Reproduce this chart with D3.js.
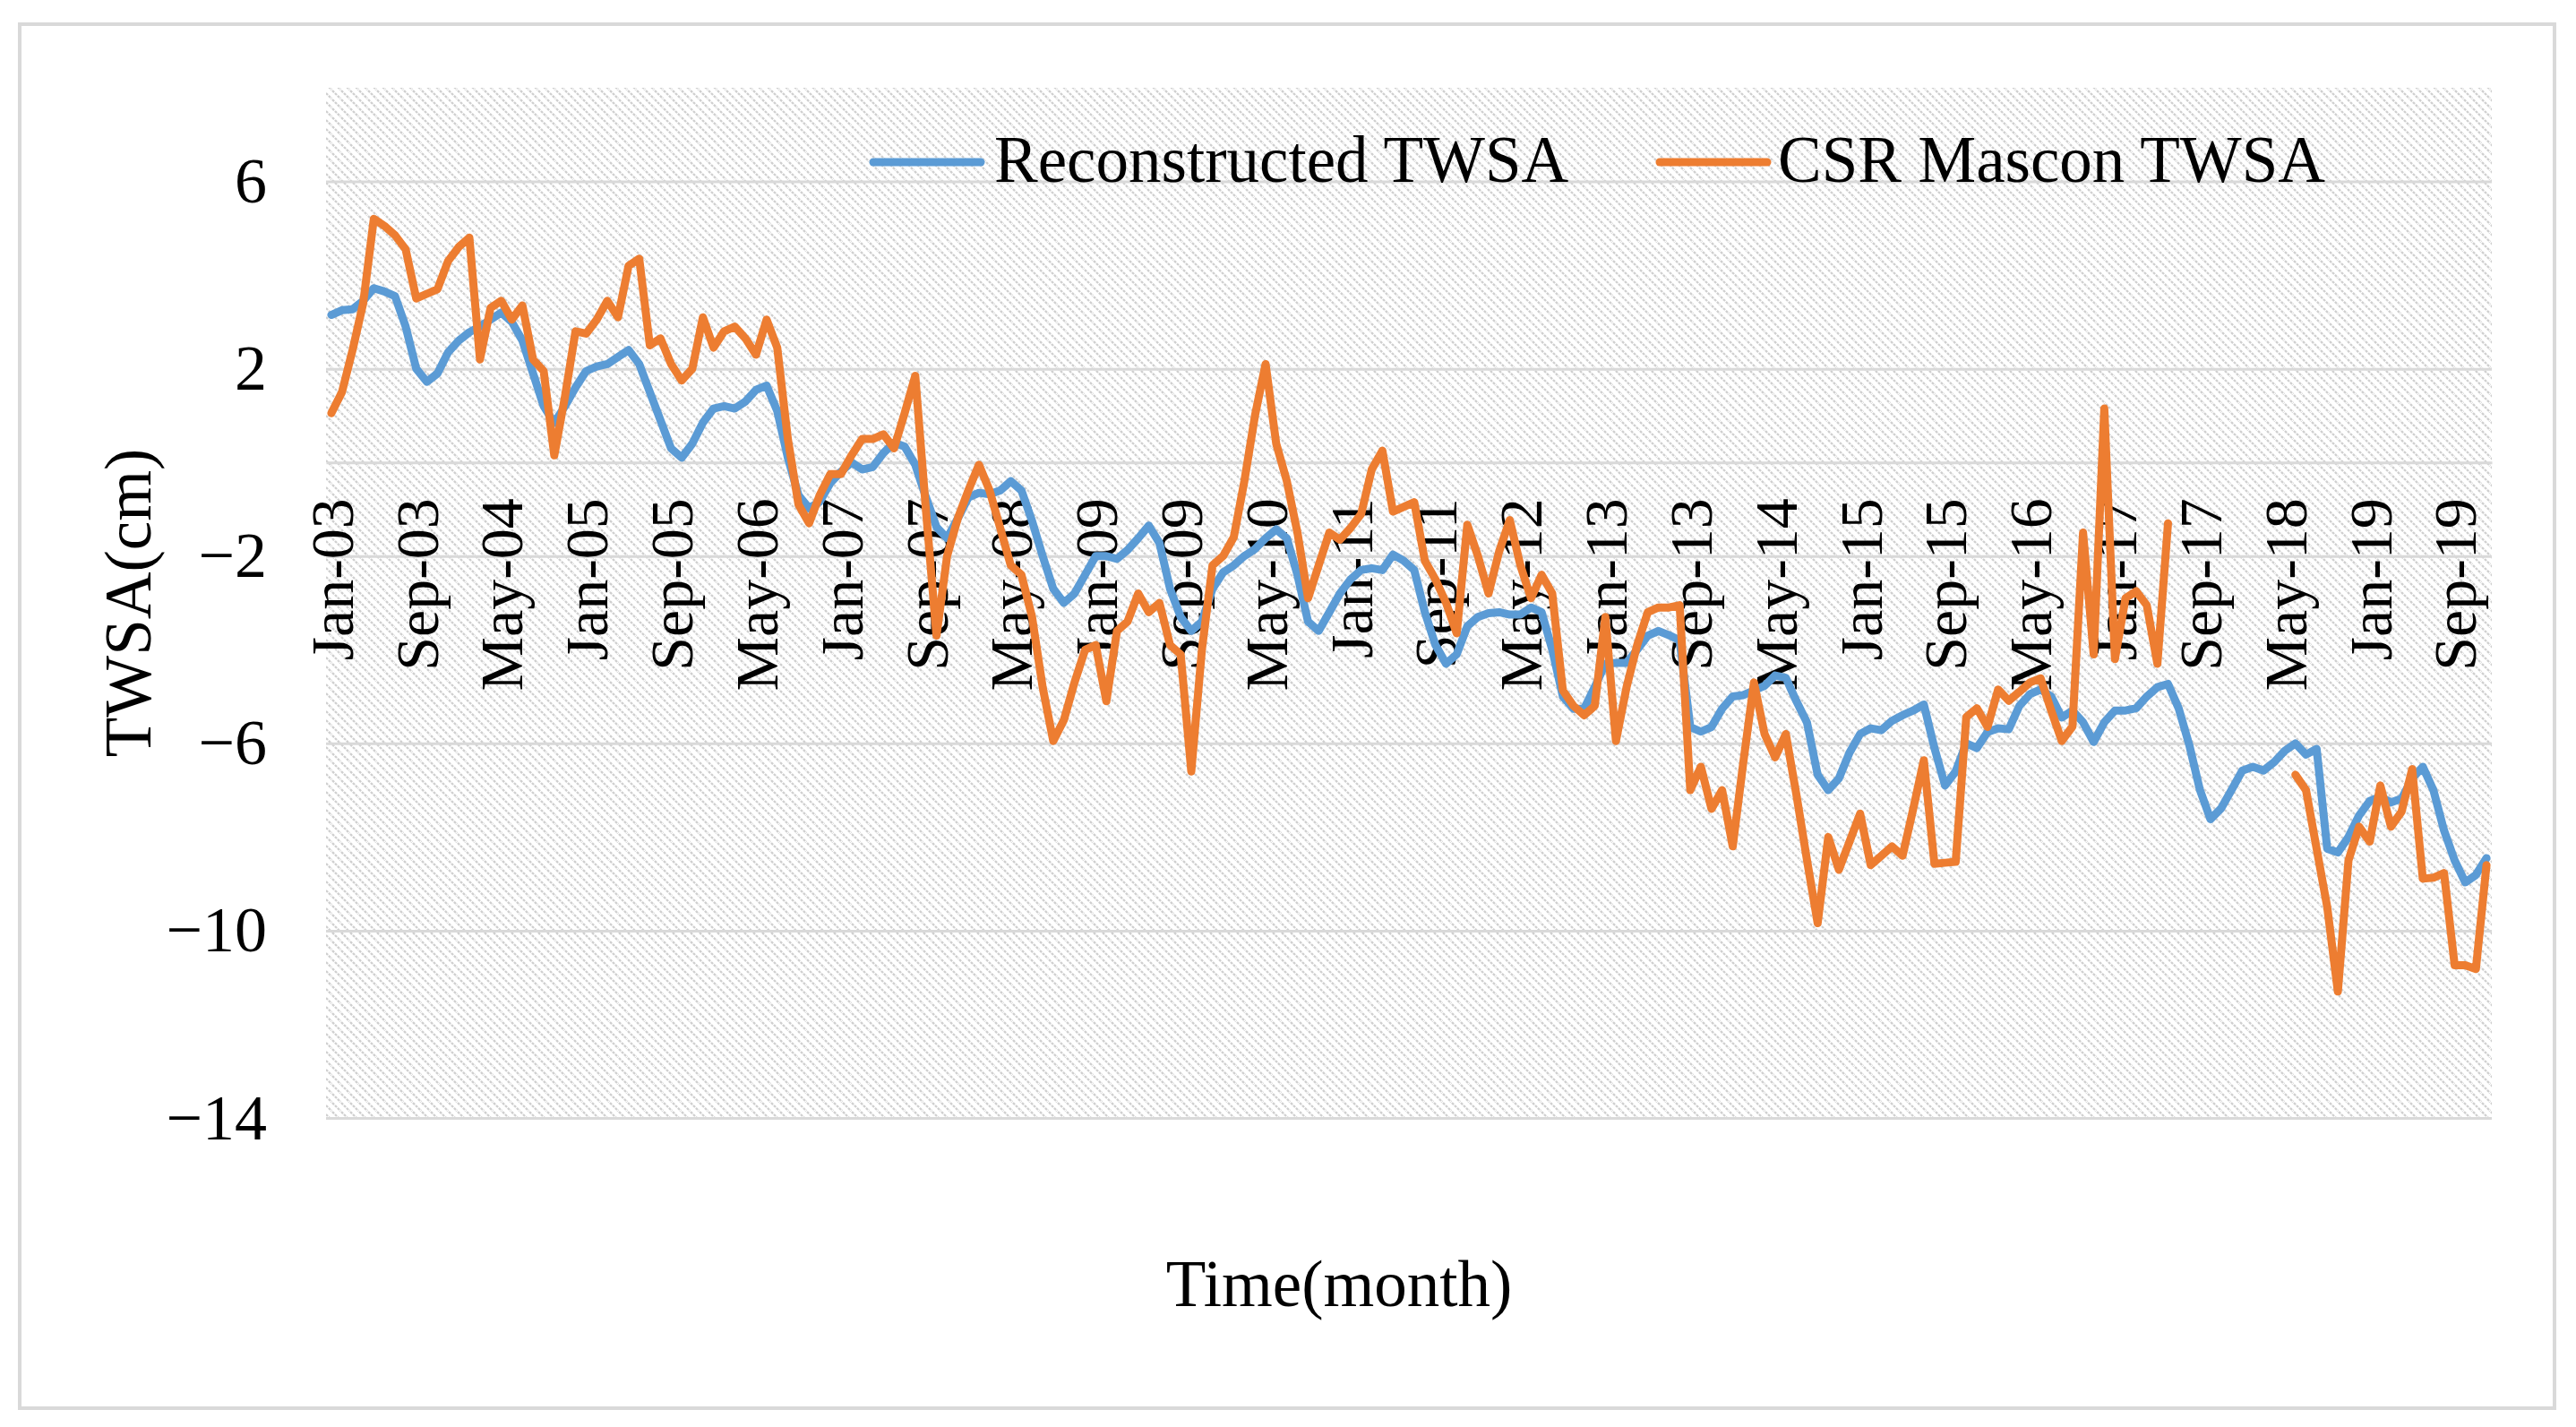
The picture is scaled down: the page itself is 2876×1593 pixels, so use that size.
<!DOCTYPE html>
<html><head><meta charset="utf-8">
<script src="https://cdn.jsdelivr.net/npm/d3@7"></script>
<style>body{margin:0;background:#fff}svg{display:block}</style>
</head><body>
<script>
const monthNames = ["Jan","Feb","Mar","Apr","May","Jun","Jul","Aug","Sep","Oct","Nov","Dec"];
const years = d3.range(2003, 2020);
const categories = years.flatMap(y => monthNames.map(m => m + "-" + String(y).slice(2)));
const tickLabels = ["Jan-03","Sep-03","May-04","Jan-05","Sep-05","May-06","Jan-07","Sep-07","May-08","Jan-09","Sep-09","May-10","Jan-11","Sep-11","May-12","Jan-13","Sep-13","May-14","Jan-15","Sep-15","May-16","Jan-17","Sep-17","May-18","Jan-19","Sep-19"];
const yTicks = [-14, -10, -6, -2, 2, 6];
const seriesNames = ["Reconstructed TWSA", "CSR Mascon TWSA"];
const seriesColors = ["#5B9BD5", "#ED7D31"];

const reconstructed = [
  3.15, 3.25, 3.27, 3.45, 3.72, 3.65, 3.55, 2.9, 2.0, 1.72,
  1.9, 2.35, 2.6, 2.78, 2.9, 3.05, 3.2, 3.0, 2.6, 1.9,
  1.2, 0.84, 1.2, 1.6, 1.95, 2.05, 2.1, 2.25, 2.4, 2.1,
  1.5, 0.9, 0.3, 0.1, 0.4, 0.85, 1.15, 1.2, 1.15, 1.3,
  1.55, 1.64, 1.1, 0.1, -0.7, -0.98, -0.84, -0.44, -0.2, 0.0,
  -0.15, -0.1, 0.2, 0.42, 0.34, -0.05, -0.74, -1.38, -1.62, -1.2,
  -0.75, -0.65, -0.68, -0.6, -0.4, -0.6, -1.25, -2.0, -2.7, -3.0,
  -2.8, -2.4, -2.0, -2.0, -2.06, -1.87, -1.62, -1.35, -1.72, -2.7,
  -3.3, -3.6, -3.4, -2.7, -2.35, -2.2, -2.0, -1.85, -1.62, -1.43,
  -1.62, -2.4, -3.4, -3.6, -3.2, -2.8, -2.5, -2.3, -2.26, -2.3,
  -1.97, -2.1, -2.3, -3.2, -3.9, -4.3, -4.1, -3.5, -3.3, -3.22,
  -3.2, -3.25, -3.25, -3.1, -3.2, -4.0, -5.0, -5.26, -5.26, -4.8,
  -4.3, -4.28, -4.28, -4.0, -3.7, -3.6, -3.69, -3.8, -5.65, -5.75,
  -5.65, -5.26, -5.0, -4.97, -4.87, -4.77, -4.55, -4.6, -5.1, -5.56,
  -6.67, -7.0, -6.75, -6.2, -5.8, -5.68, -5.72, -5.52, -5.4, -5.3,
  -5.17, -6.1, -6.9, -6.6, -6.0, -6.1, -5.76, -5.68, -5.7, -5.2,
  -4.95, -4.85, -5.0, -5.45, -5.3, -5.55, -5.97, -5.55, -5.3, -5.3,
  -5.25, -5.0, -4.8, -4.73, -5.25, -6.03, -6.99, -7.62, -7.39, -6.99,
  -6.58, -6.5, -6.58, -6.4, -6.16, -6.0, -6.24, -6.12, -8.25, -8.33,
  -8.0, -7.54, -7.23, -7.14, -7.26, -7.18, -6.75, -6.5, -7.0, -7.86,
  -8.5, -8.97, -8.81, -8.45
];

const csrMascon = [
  1.05, 1.5, 2.4, 3.4, 5.2, 5.05, 4.85, 4.55, 3.5, 3.6,
  3.7, 4.3, 4.6, 4.8, 2.2, 3.3, 3.45, 3.05, 3.35, 2.2,
  1.95, 0.15, 1.4, 2.8, 2.75, 3.05, 3.45, 3.1, 4.2, 4.35,
  2.5, 2.65, 2.1, 1.75, 2.0, 3.1, 2.45, 2.8, 2.9, 2.65,
  2.3, 3.05, 2.45, 0.5, -0.9, -1.3, -0.7, -0.25, -0.25, 0.15,
  0.5, 0.5, 0.6, 0.3, 1.05, 1.85, -1.0, -3.7, -2.0, -1.2,
  -0.6, -0.05, -0.6, -1.4, -2.2, -2.4, -3.3, -4.8, -5.95, -5.5,
  -4.7, -4.0, -3.9, -5.1, -3.6, -3.4, -2.8, -3.2, -3.0, -3.9,
  -4.1, -6.6, -4.0, -2.2, -2.0, -1.6, -0.4, 1.0, 2.1, 0.4,
  -0.4, -1.5, -2.9, -2.2, -1.5, -1.65, -1.4, -1.1, -0.15, 0.25,
  -1.05, -0.95, -0.85, -2.1, -2.5, -3.0, -3.65, -1.33, -2.0, -2.8,
  -1.9, -1.23, -2.2, -2.9, -2.4, -2.8, -4.87, -5.2, -5.4, -5.2,
  -3.3, -5.95, -4.8, -3.9, -3.2, -3.1, -3.1, -3.05, -7.0, -6.5,
  -7.4, -7.0, -8.2, -6.4, -4.7, -5.8, -6.3, -5.8, -7.1, -8.5,
  -9.84, -8.0, -8.7, -8.1, -7.5, -8.6, -8.4, -8.2, -8.4, -7.4,
  -6.36, -8.57, -8.55, -8.53, -5.44, -5.25, -5.65, -4.85, -5.09, -4.9,
  -4.7, -4.61, -5.3, -5.95, -5.64, -1.5, -4.1, 1.15, -4.2, -2.9,
  -2.75, -3.05, -4.3, -1.3, null, null, null, null, null, null,
  null, null, null, null, null, -6.67, -7.0, -8.25, -9.5, -11.3,
  -8.5, -7.78, -8.1, -6.9, -7.78, -7.46, -6.55, -8.89, -8.87, -8.77,
  -10.74, -10.74, -10.82, -8.6
];

const W = 2876, H = 1593;
const plot = {left: 364, right: 2782, top: 98, bottom: 1248};
const FONT = "'Liberation Serif','Times New Roman',Times,serif";

const svg = d3.select("body").append("svg").attr("width", W).attr("height", H);

const defs = svg.append("defs");
const pat = defs.append("pattern").attr("id", "hatch")
  .attr("patternUnits", "userSpaceOnUse").attr("width", 10).attr("height", 10);
pat.append("rect").attr("width", 10).attr("height", 10).attr("fill", "#ffffff");
pat.append("path").attr("d", "M-2,-2L12,12M-2,8L2,12M8,-2L12,2")
  .attr("stroke", "#cfcfcf").attr("stroke-width", 2.3).attr("stroke-dasharray", "3,1.2");

// chart area border
svg.append("rect").attr("x", 22).attr("y", 27).attr("width", 2830).attr("height", 1545)
  .attr("fill", "#fff").attr("stroke", "#d9d9d9").attr("stroke-width", 4);

// plot area
svg.append("rect").attr("x", plot.left).attr("y", plot.top)
  .attr("width", plot.right - plot.left).attr("height", plot.bottom - plot.top)
  .attr("fill", "url(#hatch)");

const x = d3.scaleBand().domain(categories).range([plot.left, plot.right]).paddingInner(0).paddingOuter(0);
const y = d3.scaleLinear().domain([-14, 8]).range([plot.bottom, plot.top]);
const bw = x.bandwidth();

// gridlines
svg.append("g").attr("transform", `translate(${plot.left},0)`)
  .call(d3.axisLeft(y).tickValues(yTicks).tickSize(-(plot.right - plot.left)).tickFormat(""))
  .call(g => g.select(".domain").remove())
  .call(g => g.selectAll("line").attr("stroke", "#d9d9d9").attr("stroke-width", 3));

// y tick labels
svg.append("g").attr("transform", `translate(${plot.left},0)`)
  .call(d3.axisLeft(y).tickValues(yTicks).tickSize(0).tickPadding(66).tickFormat(d3.format("d")))
  .call(g => g.select(".domain").remove())
  .call(g => g.selectAll("text").attr("font-family", FONT).attr("font-size", 72).attr("fill", "#000"));

// category axis at zero
const xAxisG = svg.append("g").attr("transform", `translate(0,${y(0)})`)
  .call(d3.axisBottom(x).tickValues(tickLabels).tickSize(0).tickSizeOuter(0));
xAxisG.select(".domain").attr("stroke", "#d9d9d9").attr("stroke-width", 3);
xAxisG.selectAll("text")
  .attr("font-family", FONT).attr("font-size", 68).attr("fill", "#000")
  .attr("transform", "rotate(-90)")
  .attr("text-anchor", "end")
  .attr("x", -40).attr("y", 0).attr("dy", "0.35em");

// series lines
const line = d3.line()
  .defined(d => d.v !== null)
  .x(d => x(d.c) + bw / 2)
  .y(d => y(d.v));

const series = [reconstructed, csrMascon];
series.forEach((vals, k) => {
  const data = categories.map((c, i) => ({c, v: vals[i] === undefined ? null : vals[i]}));
  svg.append("path").datum(data)
    .attr("fill", "none").attr("stroke", seriesColors[k]).attr("stroke-width", 9)
    .attr("stroke-linejoin", "round").attr("stroke-linecap", "round")
    .attr("d", line);
});

// legend
const legendItems = [
  {x1: 975, x2: 1095, tx: 1110},
  {x1: 1853, x2: 1973, tx: 1985}
];
legendItems.forEach((it, k) => {
  svg.append("line").attr("x1", it.x1).attr("x2", it.x2).attr("y1", 181).attr("y2", 181)
    .attr("stroke", seriesColors[k]).attr("stroke-width", 9).attr("stroke-linecap", "round");
  svg.append("text").attr("x", it.tx).attr("y", 203)
    .attr("font-family", FONT).attr("font-size", 73).attr("fill", "#000")
    .text(seriesNames[k]);
});

// axis titles
svg.append("text").attr("x", 1495).attr("y", 1458).attr("text-anchor", "middle")
  .attr("font-family", FONT).attr("font-size", 73).attr("fill", "#000").text("Time(month)");
svg.append("text").attr("transform", `translate(168,${(plot.top + plot.bottom) / 2}) rotate(-90)`)
  .attr("text-anchor", "middle")
  .attr("font-family", FONT).attr("font-size", 73).attr("fill", "#000").text("TWSA(cm)");
</script>
</body></html>
